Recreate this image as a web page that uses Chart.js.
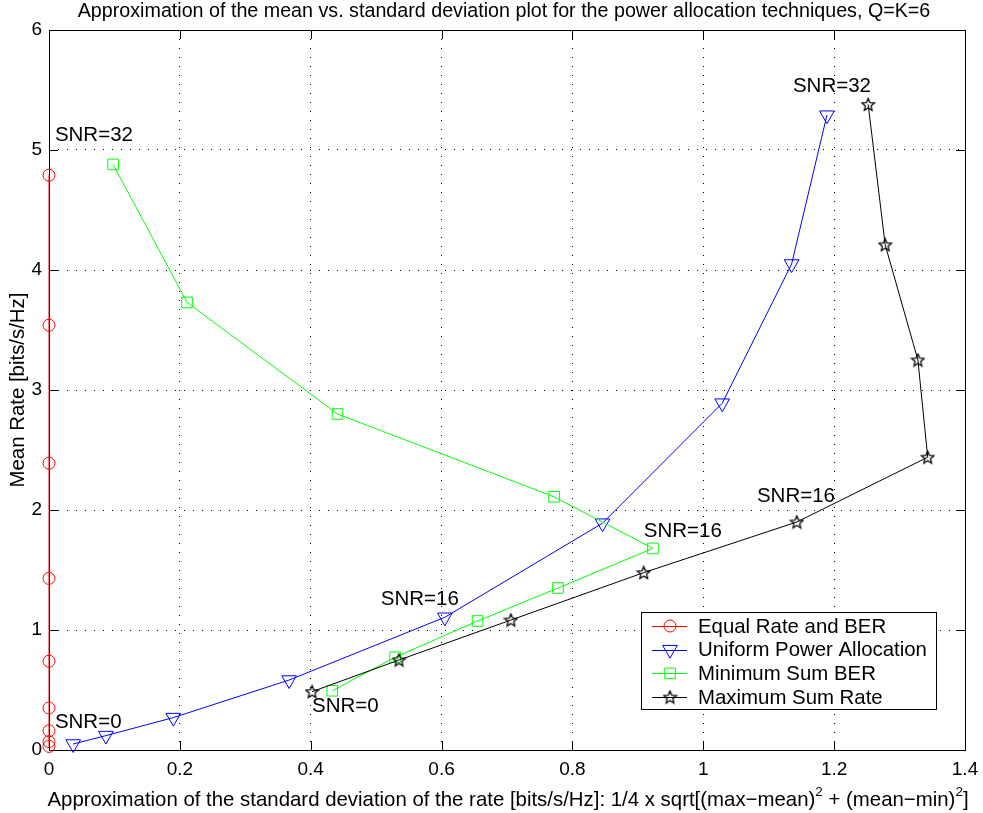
<!DOCTYPE html>
<html>
<head>
<meta charset="utf-8">
<script src="https://cdn.jsdelivr.net/npm/chart.js@4.4.0/dist/chart.umd.min.js"></script>
<style>
    html, body { margin: 0; padding: 0; background: #ffffff; }
    #wrap { width: 983px; height: 813px; }
</style>
</head>
<body>
<div id="wrap"><canvas id="meanStdChart" width="983" height="813"></canvas></div>
<script>
// ---------------------------
// Data
// ---------------------------

const xTicks = [0, 0.2, 0.4, 0.6, 0.8, 1, 1.2, 1.4];
const yTicks = [0, 1, 2, 3, 4, 5, 6];

// SNR = 0, 4, 8, ... 32
const equalStd    = [0, 0, 0, 0, 0, 0, 0, 0, 0];
const equalMean   = [0.03, 0.07, 0.16, 0.35, 0.74, 1.43, 2.39, 3.54, 4.79];

const uniformStd  = [0.037, 0.087, 0.19, 0.367, 0.605, 0.846, 1.029, 1.135, 1.189];
const uniformMean = [0.05, 0.12, 0.27, 0.583, 1.106, 1.89, 2.89, 4.05, 5.29];

const minBerStd   = [0.433, 0.529, 0.655, 0.778, 0.923, 0.772, 0.441, 0.211, 0.098];
const minBerMean  = [0.494, 0.773, 1.075, 1.35, 1.68, 2.11, 2.80, 3.73, 4.88];

const maxRateStd  = [0.402, 0.535, 0.706, 0.909, 1.143, 1.343, 1.328, 1.278, 1.252];
const maxRateMean = [0.486, 0.75, 1.083, 1.478, 1.90, 2.44, 3.25, 4.21, 5.38];

const seriesNames = ["Equal Rate and BER", "Uniform Power Allocation", "Minimum Sum BER", "Maximum Sum Rate"];

// text annotations, in data coordinates (left edge, vertical middle)
const snrText = ["SNR=32", "SNR=0", "SNR=16", "SNR=0", "SNR=16", "SNR=16", "SNR=32"];
const snrX    = [0.009, 0.009, 0.507, 0.402, 0.909, 1.082, 1.137];
const snrY    = [5.125, 0.233, 1.258, 0.367, 1.825, 2.117, 5.533];

const titleText = "Approximation of the mean vs. standard deviation plot for the power allocation techniques, Q=K=6";
const yLabelText = "Mean Rate [bits/s/Hz]";

const FONT = "'Liberation Sans', Arial, Helvetica, sans-serif";


// ---------------------------
// Helpers
// ---------------------------

function toPoints(xs, ys) {
    return xs.map(function (x, i) { return { x: x, y: ys[i] }; });
}

function makeStar(size, color) {
    const c = document.createElement("canvas");
    c.width = size;
    c.height = size;
    const g = c.getContext("2d");
    const cx = size / 2, cy = size / 2 + 0.5;
    const ro = size / 2 - 0.9, ri = ro * 0.45;
    g.beginPath();
    for (let i = 0; i < 10; i++) {
        const r = i % 2 ? ri : ro;
        const a = -Math.PI / 2 + i * Math.PI / 5;
        g.lineTo(cx + r * Math.cos(a), cy + r * Math.sin(a));
    }
    g.closePath();
    g.strokeStyle = color;
    g.lineWidth = 1.25;
    g.stroke();
    return c;
}

const starImg = makeStar(15, "#000000");

function noEdgePadding(s) {
    s.paddingLeft = 0;
    s.paddingRight = 0;
    s.paddingTop = 0;
    s.paddingBottom = 0;
}


// ---------------------------
// Box, inner ticks, texts, legend
// ---------------------------

const decorPlugin = {

    id: "decor",

    beforeDatasetsDraw(chart) {

        const ctx = chart.ctx;
        const a = chart.chartArea;
        const xs = chart.scales.x;
        const ys = chart.scales.y;
        const tl = 9;

        ctx.save();
        ctx.strokeStyle = "#000000";
        ctx.lineWidth = 1;
        ctx.beginPath();

        xTicks.forEach(function (v) {
            const px = Math.round(xs.getPixelForValue(v)) + 0.5;
            ctx.moveTo(px, a.bottom);
            ctx.lineTo(px, a.bottom - tl);
            ctx.moveTo(px, a.top);
            ctx.lineTo(px, a.top + tl);
        });

        yTicks.forEach(function (v) {
            const py = Math.round(ys.getPixelForValue(v)) + 0.5;
            ctx.moveTo(a.left, py);
            ctx.lineTo(a.left + tl, py);
            ctx.moveTo(a.right, py);
            ctx.lineTo(a.right - tl, py);
        });

        ctx.stroke();

        ctx.strokeRect(Math.round(a.left) + 0.5, Math.round(a.top) + 0.5,
                       Math.round(a.right - a.left), Math.round(a.bottom - a.top));
        ctx.restore();

    },

    afterDraw(chart) {

        const ctx = chart.ctx;
        const a = chart.chartArea;
        const xs = chart.scales.x;
        const ys = chart.scales.y;
        const cx = (a.left + a.right) / 2;

        ctx.save();
        ctx.fillStyle = "#000000";

        // title
        ctx.font = "19.7px " + FONT;
        ctx.textAlign = "center";
        ctx.textBaseline = "middle";
        ctx.fillText(titleText, cx - 3, 12);

        // y label
        ctx.save();
        ctx.font = "20.4px " + FONT;
        ctx.translate(18, (a.top + a.bottom) / 2);
        ctx.rotate(-Math.PI / 2);
        ctx.fillText(yLabelText, 0, 0);
        ctx.restore();

        // x label with superscripts
        const parts = [
            ["Approximation of the standard deviation of the rate [bits/s/Hz]: 1/4 x sqrt[(max\u2212mean)", false],
            ["2", true],
            [" + (mean\u2212min)", false],
            ["2", true],
            ["]", false]
        ];
        const mainFont = "20.4px " + FONT;
        const supFont = "13.5px " + FONT;
        let total = 0;
        parts.forEach(function (p) {
            ctx.font = p[1] ? supFont : mainFont;
            total += ctx.measureText(p[0]).width;
        });
        let x = cx + 1 - total / 2;
        const base = 806;
        ctx.textAlign = "left";
        ctx.textBaseline = "alphabetic";
        parts.forEach(function (p) {
            ctx.font = p[1] ? supFont : mainFont;
            ctx.fillText(p[0], x, p[1] ? base - 10 : base);
            x += ctx.measureText(p[0]).width;
        });

        // SNR annotations
        ctx.font = "20.5px " + FONT;
        ctx.textBaseline = "middle";
        snrText.forEach(function (t, i) {
            ctx.fillText(t, xs.getPixelForValue(snrX[i]), ys.getPixelForValue(snrY[i]));
        });

        // legend
        const lw = 295, lh = 97;
        const lx = Math.round(a.right - 29 - lw);
        const ly = Math.round(a.bottom - 41 - lh);
        ctx.fillStyle = "#ffffff";
        ctx.fillRect(lx, ly, lw, lh);
        ctx.strokeStyle = "#000000";
        ctx.lineWidth = 1;
        ctx.strokeRect(lx + 0.5, ly + 0.5, lw, lh);

        ctx.font = "20.4px " + FONT;
        ctx.textBaseline = "middle";
        ctx.textAlign = "left";

        chart.data.datasets.forEach(function (ds, i) {
            const ry = ly + 14 + i * 23.7;
            ctx.strokeStyle = ds.borderColor;
            ctx.lineWidth = 1;
            ctx.beginPath();
            ctx.moveTo(lx + 11, Math.round(ry) + 0.5);
            ctx.lineTo(lx + 46, Math.round(ry) + 0.5);
            ctx.stroke();

            ctx.fillStyle = "rgba(0,0,0,0)";
            Chart.helpers.drawPoint(ctx, {
                pointStyle: ds.pointStyle,
                rotation: ds.pointRotation || 0,
                radius: ds.pointRadius,
                borderWidth: 1
            }, lx + 29, ry);

            ctx.fillStyle = "#000000";
            ctx.fillText(ds.label, lx + 57, ry + 1);
        });

        ctx.restore();

    }

};


// ---------------------------
// Chart
// ---------------------------

const canvas = document.getElementById("meanStdChart");

new Chart(canvas, {

    type: "scatter",

    data: {

        datasets: [

            {
                label: seriesNames[0],
                data: toPoints(equalStd, equalMean),
                borderColor: "#ff0000",
                backgroundColor: "rgba(0,0,0,0)",
                pointStyle: "circle",
                pointRadius: 6,
                order: 3
            },

            {
                label: seriesNames[1],
                data: toPoints(uniformStd, uniformMean),
                borderColor: "#0000ff",
                backgroundColor: "rgba(0,0,0,0)",
                pointStyle: "triangle",
                pointRotation: 180,
                pointRadius: 8.5,
                order: 2
            },

            {
                label: seriesNames[2],
                data: toPoints(minBerStd, minBerMean),
                borderColor: "#00ff00",
                backgroundColor: "rgba(0,0,0,0)",
                pointStyle: "rect",
                pointRadius: 7.5,
                order: 1
            },

            {
                label: seriesNames[3],
                data: toPoints(maxRateStd, maxRateMean),
                borderColor: "#000000",
                backgroundColor: "rgba(0,0,0,0)",
                pointStyle: starImg,
                pointRadius: 7,
                order: 0
            }

        ]

    },

    options: {

        responsive: false,
        animation: false,
        events: [],

        datasets: {
            scatter: {
                showLine: true,
                borderWidth: 1,
                pointBorderWidth: 1,
                tension: 0,
                clip: false
            }
        },

        layout: {
            padding: { top: 30, right: 18, left: 0, bottom: 0 }
        },

        plugins: {
            legend: { display: false },
            title: { display: false },
            tooltip: { enabled: false }
        },

        scales: {

            x: {
                type: "linear",
                min: 0,
                max: 1.4,
                afterBuildTicks: function (s) {
                    s.ticks = xTicks.map(function (v) { return { value: v }; });
                },
                afterFit: function (s) {
                    s.height = 63;
                    noEdgePadding(s);
                },
                grid: { color: "#000000", lineWidth: 1, drawTicks: false },
                border: { display: false, dash: [1, 8] },
                ticks: {
                    color: "#000000",
                    padding: 8,
                    maxRotation: 0,
                    font: { family: FONT, size: 19 },
                    callback: function (v) { return String(v); }
                }
            },

            y: {
                type: "linear",
                min: 0,
                max: 6,
                afterBuildTicks: function (s) {
                    s.ticks = yTicks.map(function (v) { return { value: v }; });
                },
                afterFit: function (s) {
                    s.width = 49;
                    noEdgePadding(s);
                },
                grid: { color: "#000000", lineWidth: 1, drawTicks: false },
                border: { display: false, dash: [1, 8] },
                ticks: {
                    color: "#000000",
                    padding: 7,
                    font: { family: FONT, size: 19 },
                    callback: function (v) { return String(v); }
                }
            }

        }

    },

    plugins: [decorPlugin]

});
</script>
</body>
</html>
